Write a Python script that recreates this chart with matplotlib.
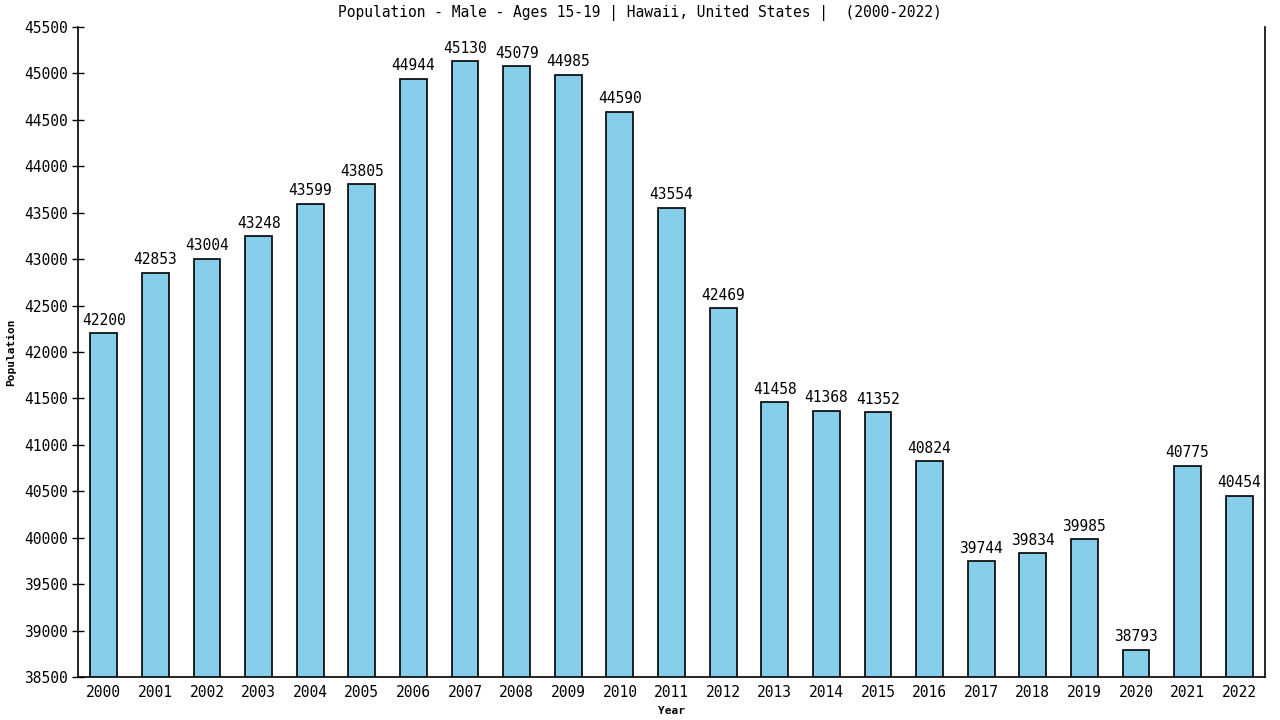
import matplotlib
matplotlib.use("Agg")
import matplotlib.pyplot as plt

## data
years = list(range(2000, 2023))
population = [42200, 42853, 43004, 43248, 43599, 43805, 44944, 45130, 45079, 44985,
              44590, 43554, 42469, 41458, 41368, 41352, 40824, 39744, 39834, 39985,
              38793, 40775, 40454]
yticks = list(range(38500, 45501, 500))

plt.rcParams['font.family'] = ['DejaVu Sans Mono']

fig = plt.figure(figsize=(12.8, 7.2), dpi=100)
ax = fig.add_axes([78/1280, 43/720, (1265-78)/1280, (677-27)/720])

xs = list(range(len(years)))
ax.bar(xs, population, width=0.52, color='#87ceeb', edgecolor='black', linewidth=1.2)

for x, v in zip(xs, population):
    ax.text(x, v + 60, str(v), ha='center', va='bottom', fontsize=10.5)

ax.set_xlim(-0.5, len(years) - 0.5)
ax.set_ylim(38500, 45500)
ax.set_yticks(yticks)
ax.set_yticklabels([str(t) for t in yticks], fontsize=10.5)
ax.set_xticks(xs)
ax.set_xticklabels([str(y) for y in years], fontsize=10.5)
ax.tick_params(axis='y', direction='inout', length=8, width=1, pad=3)
ax.tick_params(axis='x', length=0, pad=6)

ax.spines['top'].set_visible(False)
for s in ['left', 'right', 'bottom']:
    ax.spines[s].set_linewidth(1.2)

ax.set_xlabel("Year", fontsize=8, fontweight='bold', labelpad=4)
ax.set_ylabel("Population", fontsize=8, fontweight='bold', labelpad=6)
fig.text(0.5, 1 - 13/720, "Population - Male - Ages 15-19 | Hawaii, United States |  (2000-2022)",
         ha='center', va='center', fontsize=10.5)

fig.savefig("out.png", dpi=100)
